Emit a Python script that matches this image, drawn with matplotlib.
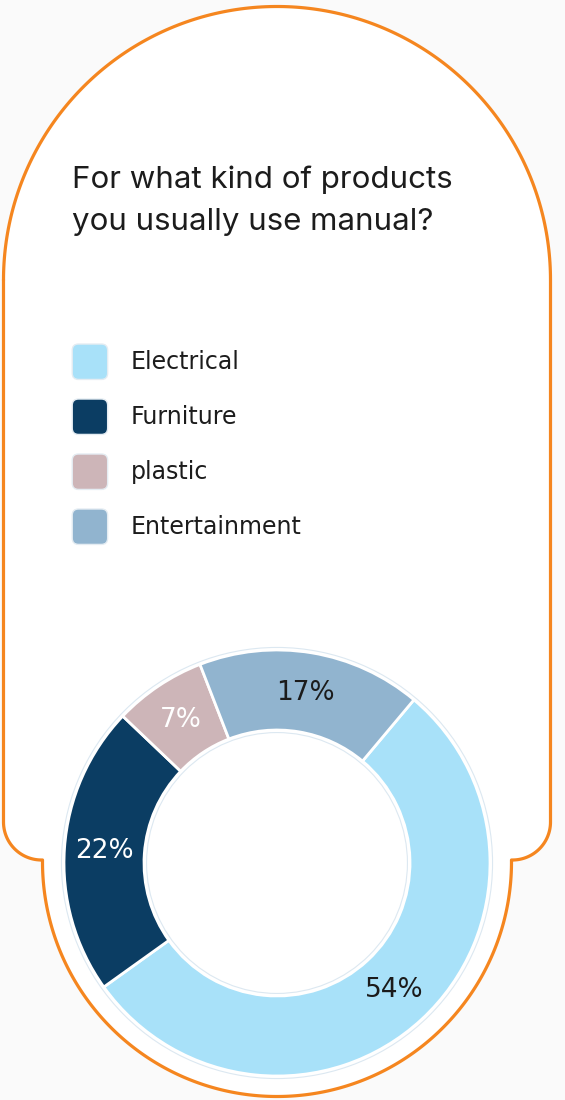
import numpy as np
import matplotlib
matplotlib.use("Agg")
import matplotlib.pyplot as plt
from matplotlib.patches import Polygon, FancyBboxPatch, Circle, Rectangle
from matplotlib.legend_handler import HandlerPatch

# ---- data ----
categories = ["Electrical", "Furniture", "plastic", "Entertainment"]
shares = [54, 22, 7, 17]
colors = ["#A8E1F9", "#0B3D63", "#CDB5B8", "#91B4CF"]
label_colors = ["#1b1b1b", "#ffffff", "#ffffff", "#1b1b1b"]
title_lines = ["For what kind of products", "you usually use manual?"]

W, H = 565, 1100
fig = plt.figure(figsize=(W / 100, H / 100), dpi=100)
fig.patch.set_facecolor("#FAFAFA")

# full-figure layer in pixel units (y grows downward) for the card outline
bg = fig.add_axes([0, 0, 1, 1], zorder=0)
bg.set_xlim(0, W)
bg.set_ylim(H, 0)
bg.axis("off")

ORANGE = "#F5861F"
left, right = 3.5, 550.5
arch_cx, arch_cy = (left + right) / 2, 280.0
arch_r = (right - left) / 2
corner_r, corner_y = 38.0, 822.0
ring_cx, ring_cy, ring_r = 277.0, 862.0, 234.5

pts = []
t = np.linspace(np.pi, 2 * np.pi, 200)
pts += list(zip(arch_cx + arch_r * np.cos(t), arch_cy + arch_r * np.sin(t)))
pts.append((right, corner_y))
t = np.linspace(0, np.pi / 2, 40)
pts += list(zip(right - corner_r + corner_r * np.cos(t), corner_y + corner_r * np.sin(t)))
t0 = np.arcsin((corner_y + corner_r - ring_cy) / ring_r)
t = np.linspace(t0, np.pi - t0, 300)
pts += list(zip(ring_cx + ring_r * np.cos(t), ring_cy + ring_r * np.sin(t)))
t = np.linspace(np.pi / 2, np.pi, 40)
pts += list(zip(left + corner_r + corner_r * np.cos(t), corner_y + corner_r * np.sin(t)))
pts.append((left, arch_cy))

card = Polygon(pts, closed=True, facecolor="white", edgecolor=ORANGE,
               linewidth=2.3, joinstyle="round")
bg.add_patch(card)

# title, one baseline per line
for i, line in enumerate(title_lines):
    bg.text(72, 188 + 42 * i, line, fontsize=22.5, family="Inter", color="#1c1c1c",
            va="baseline", ha="left")


# legend with rounded swatches
SWATCH_PT = 25.5


class RoundSwatch(HandlerPatch):
    def create_artists(self, legend, orig_handle, xdescent, ydescent,
                       width, height, fontsize, trans):
        xc = -xdescent + width / 2
        yc = -ydescent + height / 2
        s = SWATCH_PT
        p = FancyBboxPatch((xc - s / 2, yc - s / 2), s, s,
                           boxstyle="round,pad=0,rounding_size=4.5",
                           facecolor=orig_handle.get_facecolor(),
                           edgecolor="#E4ECF2", linewidth=1.0,
                           transform=trans)
        return [p]


handles = [Rectangle((0, 0), 1, 1, facecolor=c) for c in colors]
leg = bg.legend(handles, categories, handler_map={Rectangle: RoundSwatch()},
                loc="upper left", bbox_to_anchor=(72 / W, 1 - 343.5 / H),
                frameon=False, borderpad=0, borderaxespad=0,
                prop={"family": "DejaVu Sans", "size": 17},
                handlelength=1.52, handleheight=2.0, handletextpad=0.98,
                labelspacing=0.784, labelcolor="#1c1c1c")

# donut chart
R_px = 213.0
half = 222.0
cx, cy = 277.0, 863.0
pax = fig.add_axes([(cx - half) / W, (H - cy - half) / H, 2 * half / W, 2 * half / H],
                   zorder=2)
wedges, texts, autotexts = pax.pie(
    shares, colors=colors, startangle=50, counterclock=False, radius=1.0,
    wedgeprops=dict(width=1 - 133 / 213, edgecolor="white", linewidth=2.0),
    autopct=lambda p: f"{p:.0f}%", pctdistance=0.81,
    textprops=dict(fontsize=19, family="DejaVu Sans"))
for txt, c in zip(autotexts, label_colors):
    txt.set_color(c)
pax.add_patch(Circle((0, 0), 1.012, fill=False, edgecolor="#DCE8F1", linewidth=0.8))
pax.add_patch(Circle((0, 0), 133 / 213 - 0.012, fill=False, edgecolor="#DCE8F1", linewidth=0.8))
lim = half / R_px
pax.set_xlim(-lim, lim)
pax.set_ylim(-lim, lim)
pax.set_aspect("equal")
pax.axis("off")

fig.savefig("out.png", dpi=100, facecolor=fig.get_facecolor())
